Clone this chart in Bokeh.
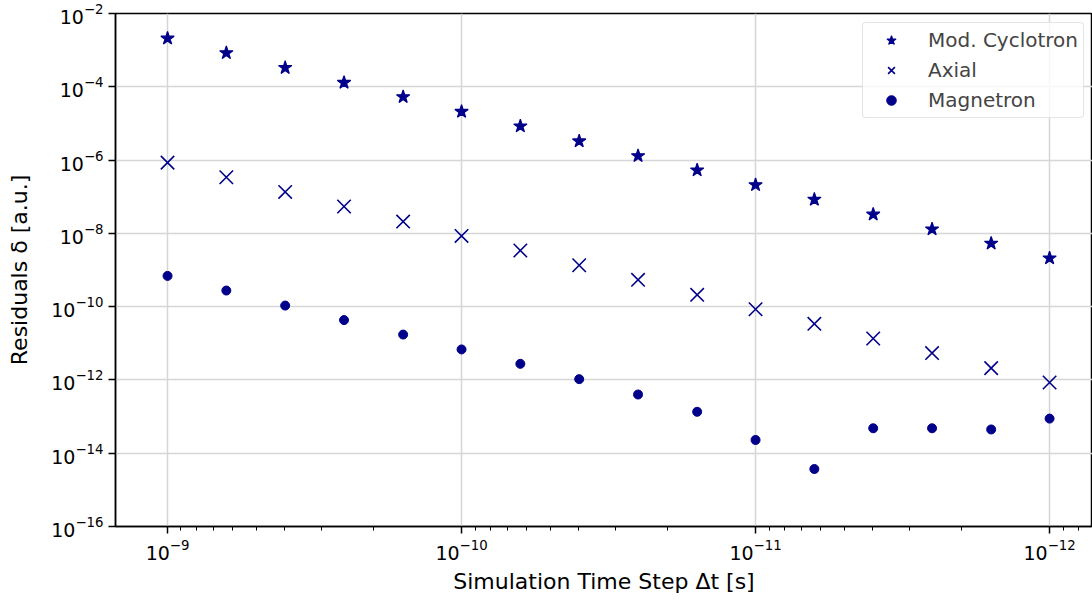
from bokeh.plotting import figure
from bokeh.models import Range1d, FixedTicker, Legend, LegendItem
from bokeh.embed import file_html
from bokeh.resources import INLINE

time_steps = [1.0e-9, 6.31e-10, 3.98e-10, 2.51e-10, 1.58e-10, 1.0e-10, 6.31e-11, 3.98e-11,
              2.51e-11, 1.58e-11, 1.0e-11, 6.31e-12, 3.98e-12, 2.51e-12, 1.58e-12, 1.0e-12]
cyclotron = [2.1e-3, 8.4e-4, 3.3e-4, 1.3e-4, 5.3e-5, 2.1e-5, 8.4e-6, 3.3e-6,
             1.3e-6, 5.3e-7, 2.1e-7, 8.4e-8, 3.3e-8, 1.3e-8, 5.3e-9, 2.1e-9]
axial = [8.5e-7, 3.4e-7, 1.35e-7, 5.4e-8, 2.1e-8, 8.5e-9, 3.4e-9, 1.35e-9,
         5.4e-10, 2.1e-10, 8.5e-11, 3.4e-11, 1.35e-11, 5.4e-12, 2.1e-12, 8.5e-13]
magnetron = [6.9e-10, 2.75e-10, 1.07e-10, 4.3e-11, 1.73e-11, 6.8e-12, 2.75e-12, 1.05e-12,
             4.0e-13, 1.35e-13, 2.3e-14, 3.7e-15, 4.8e-14, 4.8e-14, 4.45e-14, 8.8e-14]
series_names = ["Mod. Cyclotron", "Axial", "Magnetron"]
x_major = [1e-9, 1e-10, 1e-11, 1e-12]
y_major = [1e-2, 1e-4, 1e-6, 1e-8, 1e-10, 1e-12, 1e-14, 1e-16]

COLOR = "#00008B"
FONT = "DejaVu Sans"

p = figure(width=1092, height=600, x_axis_type="log", y_axis_type="log",
           x_range=Range1d(10 ** -8.823, 10 ** -12.146),
           y_range=Range1d(1e-16, 1e-2),
           output_backend="svg", toolbar_location=None,
           min_border_left=115, min_border_right=0, min_border_top=13, min_border_bottom=74)

minor = [m * 10.0 ** e for e in range(-13, -8) for m in range(2, 10)]
p.xaxis.ticker = FixedTicker(ticks=x_major, minor_ticks=minor)
p.yaxis.ticker = FixedTicker(ticks=y_major, minor_ticks=[])

for ax in (p.xaxis[0], p.yaxis[0]):
    ax.major_label_text_font = FONT
    ax.major_label_text_font_size = "19px"
    ax.major_label_text_color = "black"
    ax.axis_label_text_font = FONT
    ax.axis_label_text_font_size = "22px"
    ax.axis_label_text_font_style = "normal"
    ax.axis_label_text_color = "black"
    ax.axis_line_color = "black"
    ax.axis_line_width = 1.5
    ax.major_tick_line_color = "black"
    ax.major_tick_line_width = 1.5
    ax.major_tick_out = 7
    ax.major_tick_in = 0
    ax.minor_tick_line_color = "black"
    ax.minor_tick_line_width = 1
    ax.minor_tick_out = 4
    ax.minor_tick_in = 0
    ax.major_label_standoff = 5

p.xaxis.axis_label = "Simulation Time Step Δt [s]"
p.yaxis.axis_label = "Residuals δ [a.u.]"
p.xaxis.axis_label_standoff = 6
p.yaxis.axis_label_standoff = 16

p.outline_line_color = "black"
p.outline_line_width = 1.5
p.grid.grid_line_color = "#d6d6d6"
p.grid.grid_line_width = 1.5

r1 = p.scatter(time_steps, cyclotron, marker="star", size=14, fill_color=COLOR, line_color=COLOR, line_width=1.2)
r2 = p.scatter(time_steps, axial, marker="x", size=19, line_color=COLOR, line_width=1.6)
r3 = p.scatter(time_steps, magnetron, marker="circle", size=9, fill_color=COLOR, line_color=COLOR)

legend = Legend(items=[LegendItem(label=series_names[0], renderers=[r1]),
                       LegendItem(label=series_names[1], renderers=[r2]),
                       LegendItem(label=series_names[2], renderers=[r3])],
                location=(747, 408))
legend.label_text_font = FONT
legend.label_text_font_size = "20px"
legend.glyph_width = 46
legend.glyph_height = 24
legend.label_height = 24
legend.spacing = 6
legend.label_standoff = 14
legend.padding = 5
legend.margin = 0
legend.border_line_color = "#cccccc"
legend.border_line_width = 1.5
legend.border_radius = 4
legend.background_fill_alpha = 0.8
p.add_layout(legend)

open("out.html", "w").write(file_html(p, INLINE))
